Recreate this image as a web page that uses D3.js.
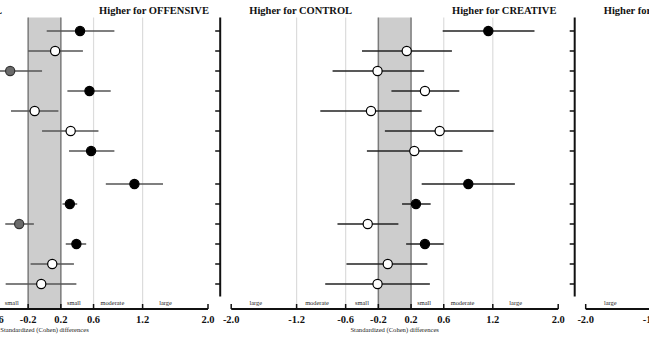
<!DOCTYPE html>
<html><head><meta charset="utf-8">
<script src="https://cdn.jsdelivr.net/npm/d3@7"></script>
<style>
body{margin:0;background:#fff;}
svg{display:block;}
text{font-family:"Liberation Serif","Times New Roman",serif;}
</style></head>
<body>
<svg id="c" width="649" height="340"></svg>
<script>
// ---- data ----
const rows = ["r1","r2","r3","r4","r5","r6","r7","r8","r9","r10","r11","r12","r13"];
const groupBreak = 7; // rows from this index on belong to second block
const tickValues = [-2.0,-1.2,-0.6,-0.2,0.2,0.6,1.2,2.0];
const tickLabels = ["-2.0","-1.2","-0.6","-0.2","0.2","0.6","1.2","2.0"];
const sizeLabels = ["large","moderate","small","small","moderate","large"];
const sizeLabelPos = [-1.7,-0.95,-0.4,0.36,0.83,1.48];
const axisTitle = "Standardized (Cohen) differences";

// panel 1 : CONTROL vs OFFENSIVE
const p1Titles = ["Higher for CONTROL","Higher for OFFENSIVE"];
const p1Est  = [0.435,0.13,-0.42,0.55,-0.12,0.32,0.57,1.10,0.31,-0.31,0.39,0.095,-0.04];
const p1Low  = [0.027,-0.20,-0.70,0.28,-0.41,-0.03,0.30,0.75,0.22,-0.48,0.26,-0.17,-0.475];
const p1High = [0.855,0.47,-0.03,0.81,0.17,0.66,0.855,1.45,0.40,-0.13,0.51,0.36,0.39];
const p1Type = ["b","w","g","b","w","w","b","b","b","g","b","w","w"];

// panel 2 : CONTROL vs CREATIVE
const p2Titles = ["Higher for CONTROL","Higher for CREATIVE"];
const p2Est  = [1.145,0.147,-0.21,0.37,-0.29,0.55,0.24,0.90,0.26,-0.33,0.37,-0.085,-0.21];
const p2Low  = [0.587,-0.40,-0.76,-0.04,-0.91,-0.12,-0.34,0.33,0.09,-0.70,0.14,-0.59,-0.85];
const p2High = [1.71,0.70,0.36,0.79,0.33,1.21,0.83,1.47,0.44,0.045,0.60,0.40,0.43];
const p2Type = ["b","w","w","w","w","w","w","b","b","w","b","w","w"];

// panel 3 : (cut off on the right)
const p3Titles = ["Higher for CONTROL","Higher for ..."];

// ---- drawing ----
const svg = d3.select("#c");
const halfW = 163.5;
const yTop = 17.5, yAxisBottom = 296.5, xAxisY = 309;

const yPos = d3.scaleLinear().domain([0, 1]).range([31, 51]);
const rowY = i => yPos(i + (i >= groupBreak ? 0.65 : 0));

const fillFor = {b:"#000", w:"#fff", g:"#6b6b6b"};

const panels = [
  {zero:44.5, titles:p1Titles, est:p1Est, low:p1Low, high:p1High, type:p1Type, lineColor:"#555"},
  {zero:394.7, titles:p2Titles, est:p2Est, low:p2Low, high:p2High, type:p2Type, lineColor:"#222"},
  {zero:749.2, titles:p3Titles, est:[], low:[], high:[], type:[], lineColor:"#222"}
];

panels.forEach(p => {
  const x = d3.scaleLinear().domain([-2, 2]).range([p.zero - halfW, p.zero + halfW]);
  const g = svg.append("g");

  // light reference lines
  g.selectAll("line.ref").data([-1.2,-0.6,0.6,1.2]).join("line")
    .attr("x1", d => x(d)).attr("x2", d => x(d))
    .attr("y1", yTop).attr("y2", xAxisY)
    .attr("stroke", "#dcdcdc").attr("stroke-width", 1.2);

  // trivial band
  g.append("rect").attr("x", x(-0.2)).attr("y", yTop)
    .attr("width", x(0.2) - x(-0.2)).attr("height", xAxisY - yTop)
    .attr("fill", "#cdcdcd");
  g.selectAll("line.band").data([-0.2, 0.2]).join("line")
    .attr("x1", d => x(d)).attr("x2", d => x(d))
    .attr("y1", yTop).attr("y2", xAxisY)
    .attr("stroke", "#7a7a7a").attr("stroke-width", 1.5);

  // y axis (left of each panel)
  const yx = x(-2) - 11;
  g.append("line").attr("x1", yx).attr("x2", yx).attr("y1", yTop).attr("y2", yAxisBottom)
    .attr("stroke", "#111").attr("stroke-width", 2);
  g.selectAll("line.ytick").data(rows).join("line")
    .attr("x1", yx - 5).attr("x2", yx)
    .attr("y1", (d, i) => rowY(i)).attr("y2", (d, i) => rowY(i))
    .attr("stroke", "#111").attr("stroke-width", 1.5);

  // x axis
  g.append("line").attr("x1", x(-2)).attr("x2", x(2)).attr("y1", xAxisY).attr("y2", xAxisY)
    .attr("stroke", "#111").attr("stroke-width", 1.8);
  g.selectAll("line.xtick").data(tickValues).join("line")
    .attr("x1", d => x(d)).attr("x2", d => x(d))
    .attr("y1", xAxisY).attr("y2", xAxisY - 5)
    .attr("stroke", "#111").attr("stroke-width", 1.5);
  g.selectAll("text.xt").data(tickValues).join("text")
    .attr("x", d => x(d)).attr("y", 322.5)
    .attr("text-anchor", "middle").attr("font-weight", "bold").attr("font-size", 10.5)
    .attr("fill", "#111")
    .text((d, i) => tickLabels[i]);

  // effect size labels
  g.selectAll("text.sz").data(sizeLabelPos).join("text")
    .attr("x", d => x(d)).attr("y", 305)
    .attr("text-anchor", "middle").attr("font-size", 6.4).attr("fill", "#222")
    .text((d, i) => sizeLabels[i]);

  // axis title
  g.append("text").attr("x", x(0)).attr("y", 332)
    .attr("text-anchor", "middle").attr("font-size", 6.6).attr("fill", "#222")
    .text(axisTitle);

  // panel titles
  g.append("text").attr("x", x(-1.15)).attr("y", 14)
    .attr("text-anchor", "middle").attr("font-weight", "bold").attr("font-size", 10.5)
    .attr("fill", "#111").text(p.titles[0]);
  g.append("text").attr("x", x(1.34)).attr("y", 14)
    .attr("text-anchor", "middle").attr("font-weight", "bold").attr("font-size", 10.5)
    .attr("fill", "#111").text(p.titles[1]);

  // CI lines
  g.selectAll("line.ci").data(p.est).join("line")
    .attr("x1", (d, i) => x(p.low[i])).attr("x2", (d, i) => x(p.high[i]))
    .attr("y1", (d, i) => rowY(i)).attr("y2", (d, i) => rowY(i))
    .attr("stroke", p.lineColor).attr("stroke-width", 1.5);

  // points
  g.selectAll("circle.pt").data(p.est).join("circle")
    .attr("cx", d => x(d)).attr("cy", (d, i) => rowY(i)).attr("r", 4.6)
    .attr("fill", (d, i) => fillFor[p.type[i]])
    .attr("stroke", (d, i) => p.type[i] === "g" ? "#333" : "#000")
    .attr("stroke-width", 1.2);
});
</script>
</body></html>
